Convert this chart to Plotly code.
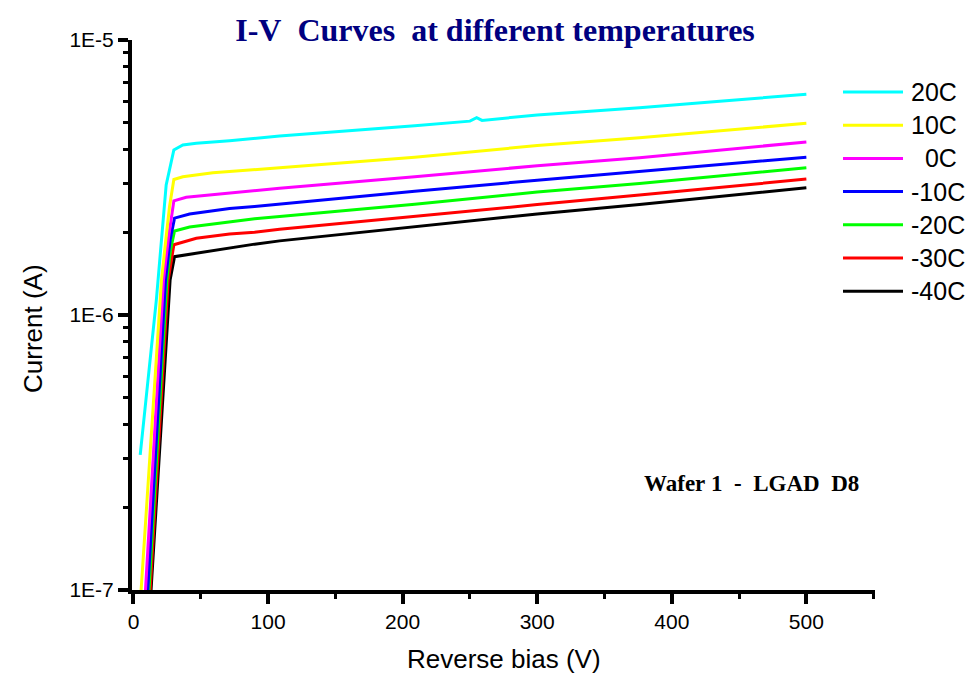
import plotly.graph_objects as go

# Leakage current (A) vs. reverse bias (V), one series per temperature
labels = ["20C", "10C", "\u00a0\u00a00C", "-10C", "-20C", "-30C", "-40C"]
colors = ["#00FFFF", "#FFFF00", "#FF00FF", "#0000FF", "#00FF00", "#FF0000", "#000000"]

v_p20 = [5, 17, 24.3, 30, 36.7, 46.7, 71.4, 90, 108.6, 209, 250, 255, 259, 300, 376, 438, 500]
i_p20 = [3.10e-7, 1.135e-6, 2.97e-6, 3.98e-6, 4.15e-6, 4.21e-6, 4.30e-6, 4.39e-6, 4.48e-6,
         4.88e-6, 5.07e-6, 5.22e-6, 5.10e-6, 5.34e-6, 5.67e-6, 6.00e-6, 6.35e-6]

v_p10 = [5, 20.8, 24.3, 26.8, 30, 36.7, 59, 90, 108.6, 209, 300, 376, 500]
i_p10 = [8.9e-8, 1.34e-6, 1.93e-6, 2.48e-6, 3.11e-6, 3.18e-6, 3.29e-6, 3.37e-6, 3.43e-6,
         3.75e-6, 4.13e-6, 4.41e-6, 4.98e-6]

v_0 = [5, 22.3, 26.0, 30, 39.2, 71.4, 90, 108.6, 209, 300, 376, 500]
i_0 = [4.67e-8, 1.34e-6, 1.905e-6, 2.60e-6, 2.68e-6, 2.78e-6, 2.83e-6, 2.89e-6, 3.18e-6,
       3.49e-6, 3.73e-6, 4.26e-6]

v_m10 = [5, 23.8, 27.2, 30.5, 41.7, 71.4, 90, 108.6, 209, 300, 376, 500]
i_m10 = [3.28e-8, 1.34e-6, 1.87e-6, 2.25e-6, 2.33e-6, 2.44e-6, 2.48e-6, 2.53e-6, 2.82e-6,
         3.09e-6, 3.32e-6, 3.75e-6]

v_m20 = [5, 24.8, 27.5, 30.5, 41.7, 71.4, 90, 108.6, 209, 300, 376, 500]
i_m20 = [2.78e-8, 1.34e-6, 1.72e-6, 2.02e-6, 2.09e-6, 2.18e-6, 2.24e-6, 2.28e-6, 2.53e-6,
         2.80e-6, 3.01e-6, 3.43e-6]

v_m30 = [5, 25.8, 30, 46.7, 71.4, 90, 108.6, 209, 300, 376, 500]
i_m30 = [2.37e-8, 1.34e-6, 1.80e-6, 1.90e-6, 1.97e-6, 2.00e-6, 2.05e-6, 2.29e-6, 2.52e-6,
         2.73e-6, 3.12e-6]

v_m40 = [5, 27.2, 30.5, 46.7, 71.4, 90, 108.6, 209, 300, 376, 500]
i_m40 = [2.29e-8, 1.34e-6, 1.63e-6, 1.68e-6, 1.75e-6, 1.81e-6, 1.86e-6, 2.09e-6, 2.33e-6,
         2.52e-6, 2.90e-6]

voltages = [v_p20, v_p10, v_0, v_m10, v_m20, v_m30, v_m40]
currents = [i_p20, i_p10, i_0, i_m10, i_m20, i_m30, i_m40]

y_major = [1e-7, 1e-6, 1e-5]
y_major_text = ["1E-7", "1E-6", "1E-5"]
y_minor = [m * 10.0 ** e for e in (-7, -6) for m in range(2, 10)]

W, H = 969, 673
L, R, T, B = 132, 94, 40, 83

fig = go.Figure()
# coldest first so warmer curves sit on top
for k in reversed(range(len(labels))):
    fig.add_trace(go.Scatter(
        x=voltages[k], y=currents[k], mode="lines", name=labels[k].strip(),
        line=dict(color=colors[k], width=3), showlegend=False,
    ))

def px_to_paper(px, py):
    return (px - L) / (W - L - R), (H - B - py) / (H - T - B)

# hand-built legend with long line samples
shapes, annotations = [], []
for k, (lab, col) in enumerate(zip(labels, colors)):
    py = 92 + k * 33.2
    x0, y0 = px_to_paper(843, py)
    x1, _ = px_to_paper(903, py)
    shapes.append(dict(type="line", xref="paper", yref="paper", x0=x0, x1=x1, y0=y0, y1=y0,
                       line=dict(color=col, width=3)))
    tx, _ = px_to_paper(909, py)
    annotations.append(dict(xref="paper", yref="paper", x=tx, y=y0, text=lab, showarrow=False,
                            xanchor="left", yanchor="middle",
                            font=dict(family="Liberation Sans", size=25, color="black")))

ax, ay = px_to_paper(751, 483)
annotations.append(dict(xref="paper", yref="paper", x=ax, y=ay,
                        text="Wafer\u00a01\u00a0 -\u00a0 LGAD\u00a0 D8", showarrow=False,
                        xanchor="center", yanchor="middle",
                        font=dict(family="Liberation Serif", size=23, color="black", weight="bold")))

# axis titles
title_font = dict(family="Liberation Sans", size=26, color="black")
tx, ty = px_to_paper(33, 328)
annotations.append(dict(xref="paper", yref="paper", x=tx, y=ty, text="Current (A)",
                        textangle=-90, showarrow=False, xanchor="center", yanchor="middle",
                        font=title_font))
tx, ty = px_to_paper(504, 659)
annotations.append(dict(xref="paper", yref="paper", x=tx, y=ty, text="Reverse bias (V)",
                        showarrow=False, xanchor="center", yanchor="middle",
                        font=title_font))

tick_font = dict(family="Liberation Sans", size=21, color="black")

fig.update_layout(
    width=W, height=H,
    margin=dict(l=L, r=R, t=T, b=B),
    paper_bgcolor="white", plot_bgcolor="white",
    title=dict(text="I-V\u00a0 Curves\u00a0 at different temperatures",
               x=495 / W, xanchor="center", y=1 - 30 / H, yanchor="middle",
               font=dict(family="Liberation Serif", size=32, color="#000080", weight="bold")),
    shapes=shapes, annotations=annotations,
    xaxis=dict(
        range=[-1.1, 551], tick0=0, dtick=100, showgrid=False, zeroline=False,
        showline=True, linecolor="black", linewidth=4, automargin=False,
        ticks="outside", ticklen=10, tickwidth=4, tickcolor="black", tickfont=tick_font,
        minor=dict(tick0=0, dtick=50, ticks="outside", ticklen=5, tickwidth=3,
                   tickcolor="black", showgrid=False),
    ),
    yaxis=dict(
        type="log", range=[-7, -5], tickmode="array", tickvals=y_major, ticktext=y_major_text,
        showgrid=False, zeroline=False, showline=True, linecolor="black", linewidth=4,
        automargin=False,
        ticks="outside", ticklen=10, tickwidth=4, tickcolor="black", tickfont=tick_font,
        minor=dict(tickmode="array", tickvals=y_minor, ticks="outside", ticklen=5,
                   tickwidth=3, tickcolor="black", showgrid=False),
    ),
)

fig.write_html("out.html")
